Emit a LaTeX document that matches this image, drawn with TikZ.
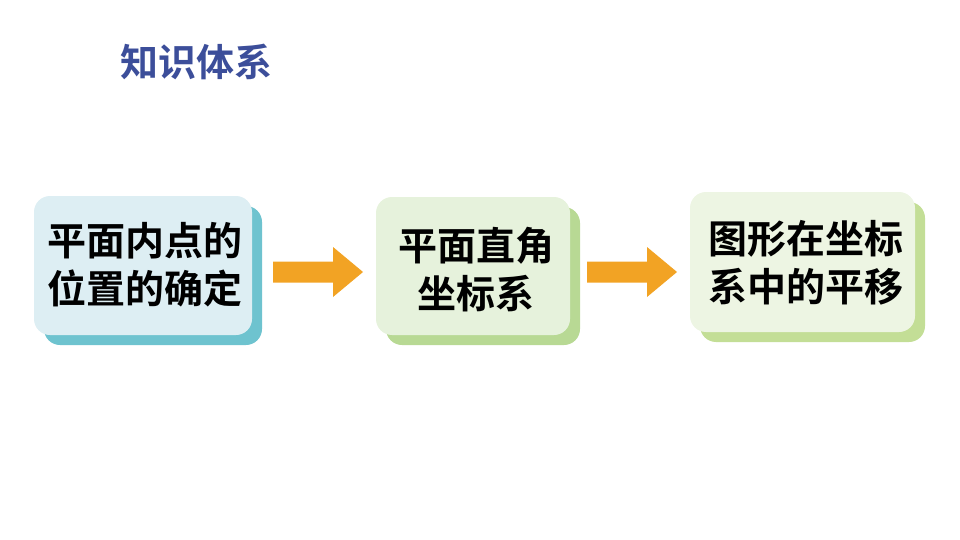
\documentclass[tikz,border=0pt]{standalone}
\usepackage{fontspec}
\newfontfamily\cjkb{Noto Sans CJK SC Bold}
\definecolor{f1}{HTML}{DDEEF3}\definecolor{s1}{HTML}{6EC3CF}
\definecolor{f2}{HTML}{E6F2DC}\definecolor{s2}{HTML}{B8D994}
\definecolor{f3}{HTML}{EDF5E3}\definecolor{s3}{HTML}{C3DE96}
\definecolor{orng}{HTML}{F2A324}\definecolor{ttl}{HTML}{3C4E9A}
\begin{document}
\begin{tikzpicture}[x=1pt,y=-1pt,
  box/.style={rounded corners=16pt},
  txt/.style={font=\cjkb\fontsize{39}{48}\selectfont,align=center,text=black},
  arrowpath/.pic={\fill[orng] (0,-10.5) -- (60,-10.5) -- (60,-25) -- (90,0) -- (60,25) -- (60,10.5) -- (0,10.5) -- cycle;}]
\useasboundingbox (0,0) rectangle (960,540);
\node[font=\cjkb\fontsize{38}{42}\selectfont,text=ttl] (title) at (196,62) {知识体系};
\fill[s1,box] (44,206) rectangle (262,345);
\fill[f1,box] (34,196) rectangle (252,335);
\node[txt] (a) at (145,265) {平面内点的\\位置的确定};
\fill[s2,box] (386,207) rectangle (580,345);
\fill[f2,box] (376,197) rectangle (570,335);
\node[txt] (b) at (476,270) {平面直角\\坐标系};
\fill[s3,box] (700,202) rectangle (925,342);
\fill[f3,box] (690,192) rectangle (915,332);
\node[txt] (c) at (806,263) {图形在坐标\\系中的平移};
\pic (a1) at (273,272) {arrowpath};
\pic (a2) at (587,272) {arrowpath};
\end{tikzpicture}
\end{document}
